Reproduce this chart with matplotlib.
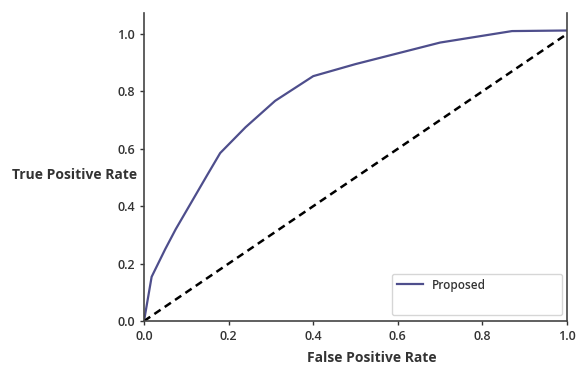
import matplotlib
matplotlib.use('Agg')
from matplotlib import pyplot as plt
from matplotlib.lines import Line2D

# ROC curve
fpr = [0.0, 0.018, 0.05, 0.075, 0.15, 0.18, 0.24, 0.31, 0.40, 0.50, 0.70, 0.87, 1.0]
tpr = [0.0, 0.154, 0.25, 0.32, 0.51, 0.585, 0.675, 0.767, 0.853, 0.895, 0.97, 1.01, 1.012]
chance = [0.0, 1.0]
ticks = [0.0, 0.2, 0.4, 0.6, 0.8, 1.0]

plt.rcParams['font.family'] = ['Open Sans', 'DejaVu Sans']

fig = plt.figure(figsize=(5.77, 3.67), dpi=100)
ax = fig.add_axes([0.2496, 0.1253, 0.7331, 0.8393])

ax.plot(fpr, tpr, color='#4e4e8c', lw=1.6, label='Proposed')
ax.plot(chance, chance, color='black', lw=1.8, ls=(0, (3, 2)))

ax.set_xlim(0, 1.0)
ax.set_ylim(0, 1.073)
ax.set_xticks(ticks)
ax.set_yticks(ticks)
ax.set_xticklabels(['%.1f' % t for t in ticks])
ax.set_yticklabels(['%.1f' % t for t in ticks])
ax.tick_params(labelsize=9, length=3, width=1, colors='#333333', labelcolor='#333333')
for t in ax.get_xticklabels() + ax.get_yticklabels():
    t.set_fontweight('semibold')

ax.spines['top'].set_visible(False)
for s in ['left', 'right', 'bottom']:
    ax.spines[s].set_color('#444444')
    ax.spines[s].set_linewidth(1.2)

ax.set_xlabel('False Positive Rate', fontsize=10, fontweight='bold', color='#333333', va='center')
ax.xaxis.set_label_coords(0.539, -0.12)
ax.set_ylabel('True Positive Rate', fontsize=10, fontweight='bold', color='#333333',
              rotation=0, ha='right', va='center')
ax.yaxis.set_label_coords(-0.017, 0.475)

h, = ax.plot([], [], color='#4e4e8c', lw=1.6)
blank = Line2D([], [], color='none')
leg = ax.legend([h, blank], ['Proposed', ' '], loc='lower left',
                bbox_to_anchor=(0.586, 0.019, 0.402, 0.13), mode='expand',
                prop={'size': 8.5, 'weight': 'semibold'}, frameon=True, fancybox=True,
                labelspacing=0.5, handlelength=2.2, borderaxespad=0)
leg.get_frame().set_edgecolor('#cccccc')
for t in leg.get_texts():
    t.set_color('#333333')

plt.savefig('out.png', dpi=100)
